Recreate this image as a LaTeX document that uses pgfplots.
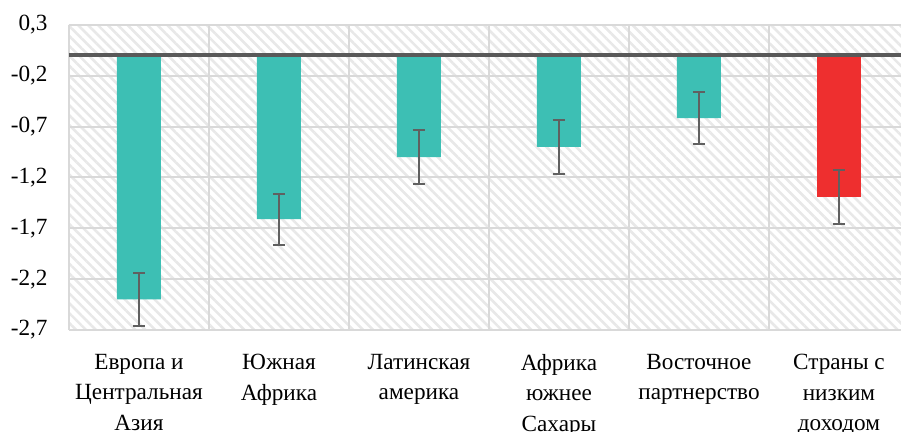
\documentclass[border=0pt]{standalone}
\usepackage{fontspec}
\setmainfont{Liberation Serif}
\usepackage{pgfplots}
\pgfplotsset{compat=1.18}
\usetikzlibrary{patterns.meta}
\definecolor{teal1}{HTML}{3DBFB4}
\definecolor{red1}{HTML}{EE2F2F}
\definecolor{gridc}{HTML}{D9D9D9}
\definecolor{hatch}{HTML}{E8E8E8}
\definecolor{dark}{HTML}{595959}
\definecolor{errc}{HTML}{606060}
\begin{document}
\begin{tikzpicture}
\useasboundingbox (0,0) rectangle (450.5pt,216pt);
\begin{axis}[
  at={(34.5pt,51pt)}, anchor=south west, scale only axis,
  width=416pt, height=152.5pt,
  xmin=-0.5, xmax=5.443, ymin=-2.7, ymax=0.3,
  ytick={-2.7,-2.2,-1.7,-1.2,-0.7,-0.2,0.3},
  yticklabels={{-2,7},{-2,2},{-1,7},{-1,2},{-0,7},{-0,2},{0,3}},
  xtick={0,1,2,3,4,5},
  xticklabels={{Европа и\\Центральная\\Азия},{Южная\\Африка},{Латинская\\америка},{Африка\\южнее\\Сахары},{Восточное\\партнерство},{Страны с\\низким\\доходом}},
  minor xtick={-0.5,0.5,1.5,2.5,3.5,4.5},
  ymajorgrids, xminorgrids,
  major grid style={gridc, line width=1pt},
  minor grid style={gridc, line width=1pt},
  major tick length=0pt, minor tick length=0pt,
  axis line style={draw=none},
  axis background/.style={pattern={Lines[angle=-45,distance=3.5pt,line width=1.3pt]}, pattern color=hatch},
  tick label style={font=\fontsize{11.6}{15.2}\selectfont},
  xticklabel style={align=center, anchor=north, inner sep=0pt},
  xticklabel shift=12pt,
  yticklabel style={anchor=east, inner sep=0pt},
  yticklabel shift=10.5pt,
  ybar, bar width=22pt, bar shift=0pt,
]
\addplot[fill=teal1, draw=none,
  error bars/.cd, y dir=both, y explicit,
  error bar style={errc, line width=1pt},
  error mark options={rotate=90, errc, mark size=3pt, line width=1pt}]
  coordinates {(0,-2.40) +- (0,0.26) (1,-1.61) +- (0,0.25) (2,-1.00) +- (0,0.265) (3,-0.90) +- (0,0.27) (4,-0.615) +- (0,0.255)};
\addplot[fill=red1, draw=none,
  error bars/.cd, y dir=both, y explicit,
  error bar style={errc, line width=1pt},
  error mark options={rotate=90, errc, mark size=3pt, line width=1pt}]
  coordinates {(5,-1.39) +- (0,0.265)};
\draw[dark, line width=2pt] (axis cs:-0.5,0) -- (axis cs:5.443,0);
\end{axis}
\end{tikzpicture}
\end{document}
